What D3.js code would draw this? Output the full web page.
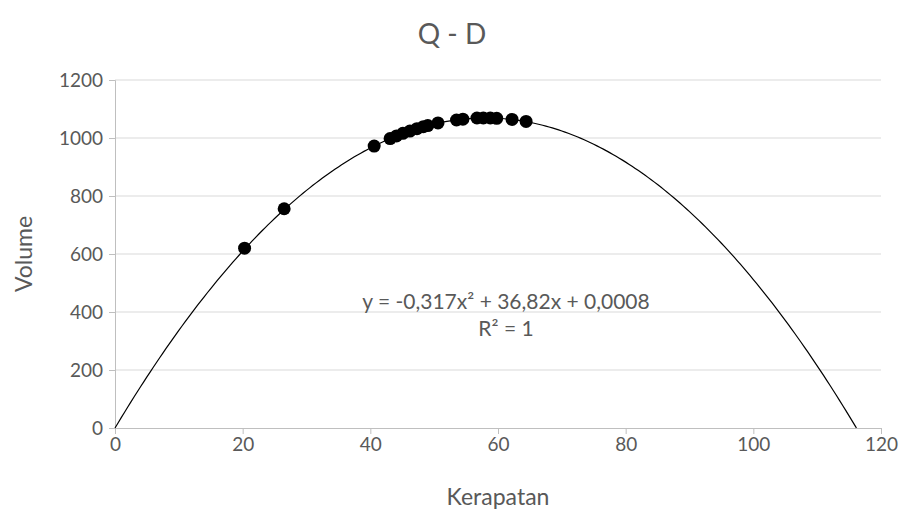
<!DOCTYPE html>
<html>
<head>
<meta charset="utf-8">
<script src="https://cdnjs.cloudflare.com/ajax/libs/d3/7.8.5/d3.min.js"></script>
<style>
  body { margin: 0; background: #fff; }
  svg text { font-family: Lato, "Open Sans", sans-serif; fill: #595959; }
</style>
</head>
<body>
<div id="chart"></div>
<script>
var w = 905, h = 514;
var margin = {left: 115, right: 24, top: 80, bottom: 86};

// data
var kerapatan = [20.3, 26.5, 40.6, 43.1, 44.1, 45.1, 46.2, 47.3, 48.3, 49.0, 50.6,
                 53.5, 54.5, 56.7, 57.7, 58.8, 59.8, 62.2, 64.4];
var volume = [620, 756, 972, 998, 1007, 1016, 1024, 1032, 1039, 1043, 1052,
              1062, 1065, 1069, 1069, 1069, 1068, 1064, 1057];
var xTicks = [0, 20, 40, 60, 80, 100, 120];
var yTicks = [0, 200, 400, 600, 800, 1000, 1200];
// trendline coefficients (a x^2 + b x + c)
var trendCoef = [-0.317, 36.82, 0.0008];
var eqLabel = "y = -0,317x² + 36,82x + 0,0008";
var r2Label = "R² = 1";

var svg = d3.select("#chart").append("svg").attr("width", w).attr("height", h);

var x = d3.scaleLinear().domain([0, 120]).range([margin.left, w - margin.right]);
var y = d3.scaleLinear().domain([0, 1200]).range([h - margin.bottom, margin.top]);

/*
 * gridlines
 */
svg.append("g").selectAll("line").data(yTicks.slice(1)).enter().append("line")
  .attr("x1", x(0)).attr("x2", x(120))
  .attr("y1", function(d){ return y(d); }).attr("y2", function(d){ return y(d); })
  .attr("stroke", "#d9d9d9").attr("stroke-width", 1);

// axes
var xAxis = svg.append("g").attr("transform", "translate(0," + y(0) + ")")
  .call(d3.axisBottom(x).tickValues(xTicks).tickFormat(d3.format("d")).tickSize(6).tickPadding(4));
var yAxis = svg.append("g").attr("transform", "translate(" + x(0) + ",0)")
  .call(d3.axisLeft(y).tickValues(yTicks).tickFormat(d3.format("d")).tickSize(6).tickPadding(6));

[xAxis, yAxis].forEach(function(g){
  g.selectAll("path, line").attr("stroke", "#bfbfbf");
  g.selectAll("text").attr("fill", "#595959").style("font-size", "19px")
   .style("font-family", "Lato, sans-serif");
});

/*
 * trendline
 */
var root = -trendCoef[1] / trendCoef[0];
var curve = d3.range(0, root, 0.5).concat([root]).map(function(v){
  return [v, trendCoef[0]*v*v + trendCoef[1]*v + trendCoef[2]];
});
svg.append("path").datum(curve)
  .attr("d", d3.line().x(function(d){ return x(d[0]); }).y(function(d){ return y(Math.max(0, d[1])); }))
  .attr("fill", "none").attr("stroke", "#000").attr("stroke-width", 1.2);

// points
svg.append("g").selectAll("circle").data(kerapatan).enter().append("circle")
  .attr("cx", function(d){ return x(d); })
  .attr("cy", function(d, i){ return y(volume[i]); })
  .attr("r", 6.5)
  .attr("fill", "#000");

/*
 * texts
 */
svg.append("text").attr("x", 452).attr("y", 44).attr("text-anchor", "middle")
  .style("font-size", "28px").text("Q - D");

svg.append("text").attr("x", x(60)).attr("y", 505).attr("text-anchor", "middle")
  .style("font-size", "23px").text("Kerapatan");

svg.append("text").attr("transform", "translate(32," + y(600) + ") rotate(-90)")
  .attr("text-anchor", "middle").style("font-size", "23px").text("Volume");

svg.append("text").attr("x", 506).attr("y", 309).attr("text-anchor", "middle")
  .style("font-size", "21px").text(eqLabel);
svg.append("text").attr("x", 506).attr("y", 336).attr("text-anchor", "middle")
  .style("font-size", "21px").text(r2Label);
</script>
</body>
</html>
